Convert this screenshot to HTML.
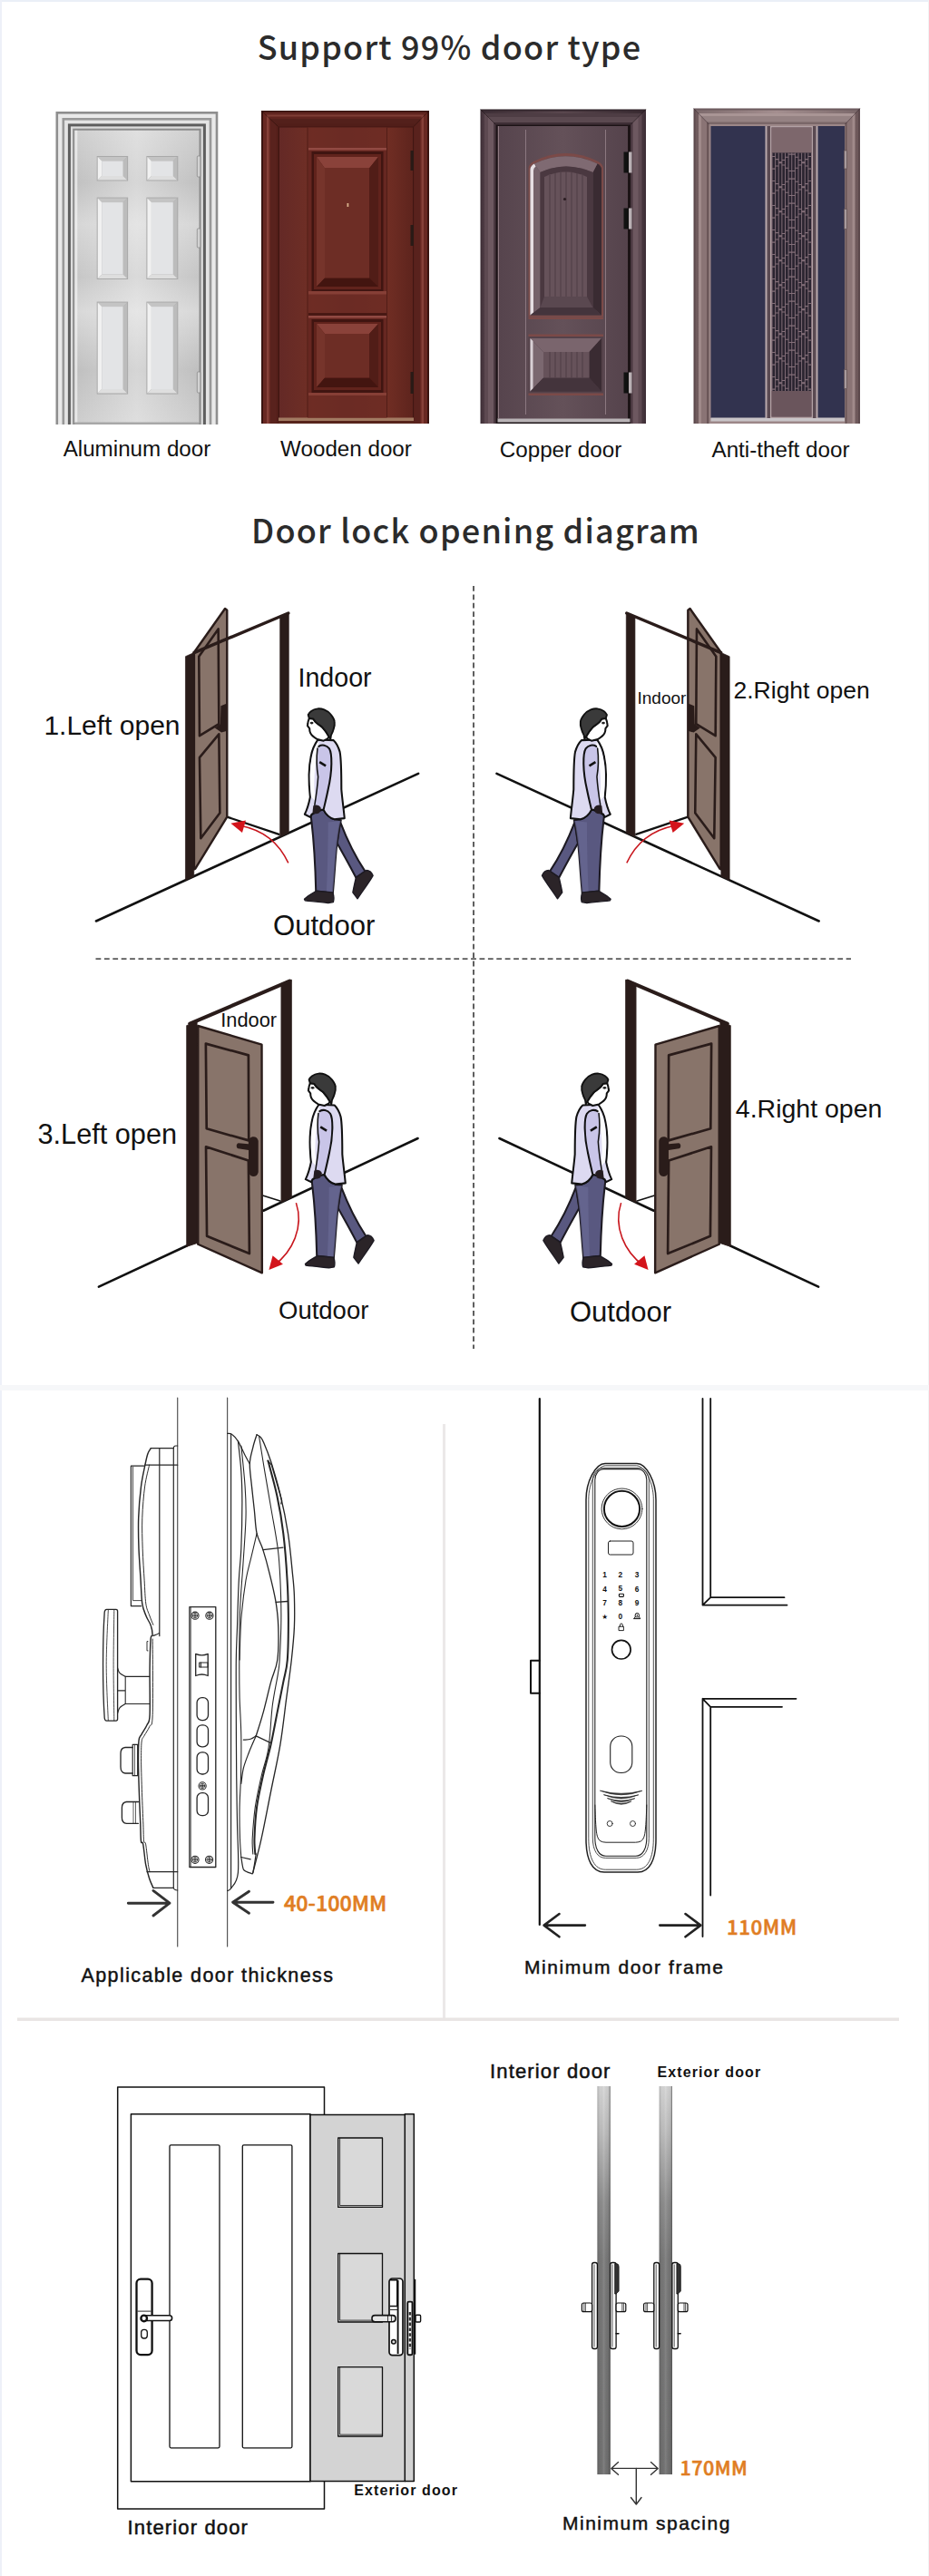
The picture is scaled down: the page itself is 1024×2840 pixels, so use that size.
<!DOCTYPE html>
<html lang="en">
<head>
<meta charset="utf-8">
<title>Support 99% door type</title>
<style>
html,body{margin:0;padding:0;background:#fff;}
body{width:1024px;height:2840px;overflow:hidden;position:relative;font-family:"Liberation Sans",sans-serif;}
svg{position:absolute;left:0;top:0;display:block;}
.t1{font-family:"Noto Sans CJK SC","Liberation Sans",sans-serif;font-weight:500;fill:#2b2b2b;}
.lb{font-family:"Liberation Sans",sans-serif;fill:#111;}
.or{font-family:"Noto Sans CJK SC","Liberation Sans",sans-serif;font-weight:500;fill:#e07d22;stroke:#e07d22;stroke-width:0.55px;}
</style>
</head>
<body>
<svg width="1024" height="2840" viewBox="0 0 1024 2840">
<rect x="0" y="0" width="1024" height="2840" fill="#ffffff"/>
<rect x="0" y="0" width="1024" height="2" fill="#eaeff7"/>
<rect x="0" y="0" width="2" height="2840" fill="#edf0f8"/>
<rect x="1023" y="0" width="1" height="2840" fill="#f1f2f3"/>
<defs>
<linearGradient id="alg" x1="0" y1="0" x2="0" y2="1">
<stop offset="0" stop-color="#cfcfcf"/><stop offset="0.18" stop-color="#c1c1c1"/><stop offset="0.32" stop-color="#d6d6d6"/><stop offset="0.5" stop-color="#c6c6c6"/><stop offset="0.62" stop-color="#d8d8d8"/><stop offset="0.82" stop-color="#bfbfbf"/><stop offset="1" stop-color="#cdcdcd"/>
</linearGradient>
<linearGradient id="alh" x1="0" y1="0" x2="1" y2="0">
<stop offset="0" stop-color="#fff" stop-opacity="0"/><stop offset="0.5" stop-color="#fff" stop-opacity="0.35"/><stop offset="1" stop-color="#fff" stop-opacity="0"/>
</linearGradient>
<linearGradient id="wdg" x1="0" y1="0" x2="1" y2="0">
<stop offset="0" stop-color="#642926"/><stop offset="0.25" stop-color="#702f25"/><stop offset="0.5" stop-color="#692b24"/><stop offset="0.8" stop-color="#712e24"/><stop offset="1" stop-color="#5e241d"/>
</linearGradient>
<linearGradient id="cpg" x1="0" y1="0" x2="1" y2="0">
<stop offset="0" stop-color="#56444d"/><stop offset="0.5" stop-color="#645159"/><stop offset="1" stop-color="#55434c"/>
</linearGradient>
<linearGradient id="cpf" x1="0" y1="0" x2="1" y2="0">
<stop offset="0" stop-color="#4a3841"/><stop offset="0.5" stop-color="#6b555d"/><stop offset="1" stop-color="#44333b"/>
</linearGradient>
<linearGradient id="atf" x1="0" y1="0" x2="1" y2="0">
<stop offset="0" stop-color="#6f5a5c"/><stop offset="0.5" stop-color="#9a8283"/><stop offset="1" stop-color="#6d585a"/>
</linearGradient>
</defs>
<text x="495.5" y="65.5" class="t1" font-size="36" text-anchor="middle" letter-spacing="1.2">Support 99% door type</text>

<!-- Aluminum door -->
<g id="door-al">
<rect x="61.5" y="123.0" width="178.8" height="345.0" fill="#8e8e8e"/>
<rect x="64.1" y="125.6" width="173.6" height="342.4" fill="#e9e9e9"/>
<rect x="68.5" y="130.0" width="164.8" height="338.0" fill="#989898"/>
<rect x="71.1" y="132.6" width="159.6" height="335.4" fill="#e4e4e4"/>
<rect x="74.9" y="136.4" width="152.0" height="331.6" fill="#5e5e5e"/>
<rect x="77.9" y="139.4" width="146.0" height="328.6" fill="#dcdcdc"/>
<rect x="80.2" y="141.7" width="141.4" height="326.3" fill="#8c8c8c"/>
<rect x="82.3" y="143.8" width="137.2" height="322.2" fill="url(#alg)"/>
<rect x="82.3" y="143.8" width="137.2" height="322.2" fill="url(#alh)"/>
<rect x="82.3" y="143.8" width="3" height="322.2" fill="#f2f2f2" opacity="0.7"/>
<rect x="82.3" y="465.5" width="137.2" height="2.5" fill="#a8a8a8"/>
<rect x="106.7" y="172" width="34.4" height="27.5" fill="#a9a9a9"/><path d="M107.7 173H140.1L135.6 177.5H112.2Z" fill="#c4c4c4"/><path d="M107.7 173L112.2 177.5V194.0L107.7 198.5Z" fill="#f1f1f1"/><path d="M140.1 173L135.6 177.5V194.0L140.1 198.5Z" fill="#bcbcbc"/><path d="M107.7 198.5L112.2 194.0H135.6L140.1 198.5Z" fill="#dedede"/><rect x="112.2" y="177.5" width="23.4" height="16.5" fill="#e3e4e6"/>
<rect x="106.7" y="217.6" width="34.4" height="90.4" fill="#a9a9a9"/><path d="M107.7 218.6H140.1L135.6 223.1H112.2Z" fill="#c4c4c4"/><path d="M107.7 218.6L112.2 223.1V302.5L107.7 307Z" fill="#f1f1f1"/><path d="M140.1 218.6L135.6 223.1V302.5L140.1 307Z" fill="#bcbcbc"/><path d="M107.7 307L112.2 302.5H135.6L140.1 307Z" fill="#dedede"/><rect x="112.2" y="223.1" width="23.4" height="79.4" fill="#e3e4e6"/>
<rect x="106.7" y="332.6" width="34.4" height="102.0" fill="#a9a9a9"/><path d="M107.7 333.6H140.1L135.6 338.1H112.2Z" fill="#c4c4c4"/><path d="M107.7 333.6L112.2 338.1V429.1L107.7 433.6Z" fill="#f1f1f1"/><path d="M140.1 333.6L135.6 338.1V429.1L140.1 433.6Z" fill="#bcbcbc"/><path d="M107.7 433.6L112.2 429.1H135.6L140.1 433.6Z" fill="#dedede"/><rect x="112.2" y="338.1" width="23.4" height="91.0" fill="#e3e4e6"/>
<rect x="161.4" y="172" width="34.9" height="27.5" fill="#a9a9a9"/><path d="M162.4 173H195.3L190.8 177.5H166.9Z" fill="#c4c4c4"/><path d="M162.4 173L166.9 177.5V194.0L162.4 198.5Z" fill="#f1f1f1"/><path d="M195.3 173L190.8 177.5V194.0L195.3 198.5Z" fill="#bcbcbc"/><path d="M162.4 198.5L166.9 194.0H190.8L195.3 198.5Z" fill="#dedede"/><rect x="166.9" y="177.5" width="23.9" height="16.5" fill="#e3e4e6"/>
<rect x="161.4" y="217.6" width="34.9" height="90.4" fill="#a9a9a9"/><path d="M162.4 218.6H195.3L190.8 223.1H166.9Z" fill="#c4c4c4"/><path d="M162.4 218.6L166.9 223.1V302.5L162.4 307Z" fill="#f1f1f1"/><path d="M195.3 218.6L190.8 223.1V302.5L195.3 307Z" fill="#bcbcbc"/><path d="M162.4 307L166.9 302.5H190.8L195.3 307Z" fill="#dedede"/><rect x="166.9" y="223.1" width="23.9" height="79.4" fill="#e3e4e6"/>
<rect x="161.4" y="332.6" width="34.9" height="102.0" fill="#a9a9a9"/><path d="M162.4 333.6H195.3L190.8 338.1H166.9Z" fill="#c4c4c4"/><path d="M162.4 333.6L166.9 338.1V429.1L162.4 433.6Z" fill="#f1f1f1"/><path d="M195.3 333.6L190.8 338.1V429.1L195.3 433.6Z" fill="#bcbcbc"/><path d="M162.4 433.6L166.9 429.1H190.8L195.3 433.6Z" fill="#dedede"/><rect x="166.9" y="338.1" width="23.9" height="91.0" fill="#e3e4e6"/>
<g fill="#d2d2d2" stroke="#8a8a8a" stroke-width="0.8"><rect x="217.3" y="172" width="3.6" height="23" rx="1"/><rect x="217.3" y="252" width="3.6" height="21" rx="1"/><rect x="217.3" y="410" width="3.6" height="23" rx="1"/></g>
</g>
<text x="151" y="502.5" class="lb" font-size="24.2" text-anchor="middle">Aluminum door</text>

<!-- Wooden door -->
<g id="door-wd">
<rect x="288" y="122" width="185" height="345" fill="#39130f"/>
<rect x="290" y="123.500" width="181" height="343.500" fill="#682822"/>
<rect x="294" y="126.500" width="173" height="340.500" fill="#864139"/>
<rect x="296.500" y="128.500" width="168" height="338.500" fill="#672721"/>
<rect x="298" y="131" width="165" height="336" fill="#59221d"/>
<rect x="304" y="136.500" width="153" height="330.500" fill="#57201b"/>
<path d="M288 122H473L456 139.5H306.5Z" fill="rgba(0,0,0,0.06)"/><path d="M288 122L306.5 139.5M473 122L456 139.5" stroke="rgba(30,8,5,0.5)" stroke-width="0.9" fill="none"/><rect x="306.500" y="139.500" width="149.500" height="327.500" fill="#411612"/>
<rect x="308" y="140.500" width="147" height="320.500" fill="url(#wdg)"/>
<rect x="307" y="460.500" width="149" height="4" fill="#a27a62"/>
<rect x="307" y="464" width="149" height="3" fill="#57241b"/>
<rect x="339" y="140.500" width="87.500" height="320.500" fill="#6c2c25" opacity="0.6"/>
<line x1="339" y1="140.500" x2="339" y2="460" stroke="#511d17" stroke-width="1"/><line x1="426.500" y1="140.500" x2="426.500" y2="460" stroke="#511d17" stroke-width="1"/>
<!-- upper panel -->
<rect x="340" y="163" width="86" height="160" fill="#924a43"/>
<rect x="340" y="165.500" width="86" height="157.500" fill="#672721"/>
<rect x="343.500" y="167" width="79" height="154" fill="#401511"/>
<rect x="346" y="170" width="74" height="149" fill="#61231c"/>
<path d="M349 173H417V316H349Z" fill="#571b15"/>
<path d="M349 173H417L407 185.500H358Z" fill="#8a423a"/>
<path d="M349 173L358 185.500V306.500L349 316Z" fill="#76342b"/>
<path d="M417 173L407 185.500V306.500L417 316Z" fill="#511d17"/>
<path d="M349 316L358 306.500H407L417 316Z" fill="#431510"/>
<rect x="358" y="185.500" width="49" height="121" fill="#6d2d25"/>
<rect x="382.500" y="224" width="1.800" height="4" fill="#d8b08a"/>
<!-- middle rail -->
<rect x="340" y="321" width="86" height="3.500" fill="#863f36"/>
<rect x="340" y="345" width="86" height="3" fill="#481813"/>
<!-- lower panel -->
<rect x="340" y="348" width="86" height="88" fill="#924a43"/>
<rect x="340" y="350.500" width="86" height="85.500" fill="#672721"/>
<rect x="343.500" y="352" width="79" height="81" fill="#401511"/>
<rect x="346" y="355" width="74" height="75" fill="#61231c"/>
<path d="M349 357H417V427H349Z" fill="#571b15"/>
<path d="M349 357H417L407 368H358Z" fill="#8a423a"/>
<path d="M349 357L358 368V416.500L349 427Z" fill="#76342b"/>
<path d="M417 357L407 368V416.500L417 427Z" fill="#511d17"/>
<path d="M349 427L358 416.500H407L417 427Z" fill="#431510"/>
<rect x="358" y="368" width="49" height="48.500" fill="#6d2d25"/>
<rect x="340" y="433" width="86" height="3" fill="#863f36"/>
<g fill="#2a1a16"><rect x="452.500" y="166" width="3.500" height="22"/><rect x="452.500" y="248" width="3.500" height="23"/><rect x="452.500" y="410" width="3.500" height="24"/></g>
</g>
<text x="381.500" y="502.5" class="lb" font-size="24.2" text-anchor="middle">Wooden door</text>

<!-- Copper door -->
<g id="door-cp">
<rect x="529.500" y="120.500" width="182.500" height="346.500" fill="#3f2f37"/>
<rect x="531.500" y="122.500" width="178.500" height="344.500" fill="url(#cpf)"/>
<rect x="534" y="125" width="173.500" height="342" fill="#5d4951"/>
<rect x="538" y="129" width="165.500" height="338" fill="#6d5860"/>
<rect x="544" y="135" width="153.500" height="332" fill="#4b3941"/>
<path d="M529.5 120.5H712L695 137.5H546.5Z" fill="rgba(0,0,0,0.16)"/><path d="M529.5 120.5L546.5 137.5M712 120.5L695 137.5" stroke="rgba(20,10,15,0.55)" stroke-width="0.9" fill="none"/><rect x="546.500" y="137.500" width="148.500" height="329.500" fill="#1c1316"/>
<rect x="548.500" y="139" width="143.500" height="323" fill="url(#cpg)"/>
<rect x="548.500" y="461.500" width="146" height="4" fill="#b9b3b6"/>
<line x1="579.500" y1="143" x2="579.500" y2="457" stroke="#8c7880" stroke-width="1"/><line x1="667.500" y1="143" x2="667.500" y2="457" stroke="#8c7880" stroke-width="1"/>
<line x1="549.500" y1="139" x2="549.500" y2="461" stroke="#8f7b82" stroke-width="1"/>
<!-- arch panel -->
<path d="M582.500 349.500V186Q582.500 181 588 178Q623.500 160 659.500 178Q665 181 665 186V349.500Z" fill="#7b4a48"/>
<path d="M584.500 347.500V187Q584.500 183 589 180.500Q623.500 164 658.500 180.500Q663 183 663 187V347.500Z" fill="#55424a"/>
<path d="M584.500 347.500V187Q584.500 183 589 180.500L595.500 190V339Z" fill="#75626a"/><path d="M584.500 347.500V187Q584.500 183 589 180.500L590.5 183.5Q588 185 588 188V344.500Z" fill="#e6dfe3"/>
<path d="M663 347.500V187Q663 183 658.500 180.500L653.500 190V339Z" fill="#3a2b32"/>
<path d="M589 180.500Q623.500 164 658.500 180.500L653.500 190Q623.500 177 595.500 190Z" fill="#7f6a72"/>
<path d="M584.500 347.500L595.500 339H653.500L663 347.500Z" fill="#44343c"/>
<path d="M595.500 339V190Q623.500 177 653.500 190V339Z" fill="#4a3840"/>
<path d="M600 327V195Q623.500 184 647 195V327Z" fill="#66525a"/>
<g stroke="#4e3c44" stroke-width="1"><line x1="606" y1="193" x2="606" y2="327"/><line x1="612" y1="190.500" x2="612" y2="327"/><line x1="618" y1="189.500" x2="618" y2="327"/><line x1="624" y1="189" x2="624" y2="327"/><line x1="630" y1="189.500" x2="630" y2="327"/><line x1="636" y1="190.500" x2="636" y2="327"/><line x1="642" y1="193" x2="642" y2="327"/></g>
<path d="M600 327L595.500 339H653.500L647 327Z" fill="#5a4850"/>
<circle cx="622.500" cy="219.500" r="1.600" fill="#2a1d22"/>
<!-- rails -->
<rect x="582.500" y="349.500" width="82.500" height="2.500" fill="#7b4a48"/>
<rect x="582.500" y="368.500" width="82.500" height="2.500" fill="#7b4a48"/>
<!-- lower panel -->
<rect x="582.500" y="371" width="82.500" height="62.500" fill="#55424a"/>
<path d="M584.500 373H663V431.500H584.500Z" fill="#4a3840"/>
<path d="M584.500 373H663L649.500 388H599Z" fill="#7a656d"/>
<path d="M584.500 373L599 388V416.500L584.500 431.500Z" fill="#7b6870"/><path d="M584.500 373L587.5 376V428.500L584.500 431.500Z" fill="#d9d0d5"/>
<path d="M663 373L649.500 388V416.500L663 431.500Z" fill="#3a2b32"/>
<path d="M584.500 431.500L599 416.500H649.500L663 431.500Z" fill="#44343c"/>
<rect x="599" y="388" width="50.500" height="28.500" fill="#66525a"/>
<g stroke="#4e3c44" stroke-width="1"><line x1="606" y1="388" x2="606" y2="416.500"/><line x1="612" y1="388" x2="612" y2="416.500"/><line x1="618" y1="388" x2="618" y2="416.500"/><line x1="624" y1="388" x2="624" y2="416.500"/><line x1="630" y1="388" x2="630" y2="416.500"/><line x1="636" y1="388" x2="636" y2="416.500"/><line x1="642" y1="388" x2="642" y2="416.500"/></g>
<rect x="582.500" y="433.500" width="82.500" height="2.500" fill="#7b4a48"/>
<!-- hinges -->
<g><rect x="687.500" y="167.500" width="6" height="23" fill="#111"/><rect x="693" y="167.500" width="3.500" height="23" fill="#b9b0b4"/>
<rect x="687.500" y="229.500" width="6" height="23" fill="#111"/><rect x="693" y="229.500" width="3.500" height="23" fill="#b9b0b4"/>
<rect x="687.500" y="410.500" width="6" height="23" fill="#111"/><rect x="693" y="410.500" width="3.500" height="23" fill="#b9b0b4"/></g>
</g>
<text x="618" y="503.5" class="lb" font-size="24.2" text-anchor="middle">Copper door</text>

<!-- Anti-theft door -->
<g id="door-at">
<rect x="764.500" y="119.500" width="183.500" height="347.500" fill="#5c494c"/>
<rect x="766.500" y="121.500" width="179.500" height="345.500" fill="url(#atf)"/>
<rect x="770" y="125" width="172.500" height="342" fill="#a08a8a"/>
<rect x="773" y="128" width="166.500" height="339" fill="#8a7475"/>
<rect x="779" y="134.500" width="154.500" height="332.500" fill="#6b5658"/>
<rect x="781.500" y="137" width="150" height="330" fill="#9c8788"/>
<path d="M764.5 119.5H948L931.5 137H781.5Z" fill="rgba(255,255,255,0.10)"/><path d="M764.5 119.5L781.5 137M948 119.5L931.5 137" stroke="rgba(40,25,30,0.5)" stroke-width="0.9" fill="none"/><rect x="783.500" y="139" width="147.500" height="322" fill="#32334f"/>
<rect x="783.500" y="460.500" width="147.500" height="4" fill="#c9c5c8"/>
<rect x="843.500" y="139" width="58" height="322" fill="#b9a9ac"/>
<rect x="845.500" y="139" width="54" height="322" fill="#5a4a52"/>
<rect x="849" y="139" width="47" height="322" fill="#b3a2a5"/>
<rect x="850.500" y="140.500" width="44" height="319" fill="#6e5960"/>
<rect x="850.500" y="140.500" width="44" height="28" fill="#7d676c"/>
<rect x="850.500" y="431" width="44" height="28.500" fill="#6a555c"/>
<g id="atgrid"><rect x="851.0" y="168.5" width="43.5" height="262.5" fill="#2a2430"/><path d="M851.00 168.5V431.0M854.62 168.5V431.0M858.25 168.5V431.0M861.88 168.5V431.0M865.50 168.5V431.0M869.12 168.5V431.0M872.75 168.5V431.0M876.38 168.5V431.0M880.00 168.5V431.0M883.62 168.5V431.0M887.25 168.5V431.0M890.88 168.5V431.0M894.50 168.5V431.0" stroke="#85707a" stroke-width="0.95" fill="none"/><path d="M851.00 186.10H854.62M851.00 172.40H854.62M854.62 182.90H858.25M854.62 175.60H858.25M858.25 179.70H861.88M858.25 178.80H861.88M861.88 176.50H865.50M861.88 182.00H865.50M865.50 173.30H869.12M865.50 185.20H869.12M869.12 170.10H872.75M869.12 188.40H872.75M872.75 170.10H876.38M872.75 188.40H876.38M876.38 173.30H880.00M876.38 185.20H880.00M880.00 176.50H883.62M880.00 182.00H883.62M883.62 179.70H887.25M883.62 178.80H887.25M887.25 182.90H890.88M887.25 175.60H890.88M890.88 186.10H894.50M890.88 172.40H894.50M851.00 213.10H854.62M851.00 199.40H854.62M854.62 209.90H858.25M854.62 202.60H858.25M858.25 206.70H861.88M858.25 205.80H861.88M861.88 203.50H865.50M861.88 209.00H865.50M865.50 200.30H869.12M865.50 212.20H869.12M869.12 197.10H872.75M869.12 215.40H872.75M872.75 197.10H876.38M872.75 215.40H876.38M876.38 200.30H880.00M876.38 212.20H880.00M880.00 203.50H883.62M880.00 209.00H883.62M883.62 206.70H887.25M883.62 205.80H887.25M887.25 209.90H890.88M887.25 202.60H890.88M890.88 213.10H894.50M890.88 199.40H894.50M851.00 240.10H854.62M851.00 226.40H854.62M854.62 236.90H858.25M854.62 229.60H858.25M858.25 233.70H861.88M858.25 232.80H861.88M861.88 230.50H865.50M861.88 236.00H865.50M865.50 227.30H869.12M865.50 239.20H869.12M869.12 224.10H872.75M869.12 242.40H872.75M872.75 224.10H876.38M872.75 242.40H876.38M876.38 227.30H880.00M876.38 239.20H880.00M880.00 230.50H883.62M880.00 236.00H883.62M883.62 233.70H887.25M883.62 232.80H887.25M887.25 236.90H890.88M887.25 229.60H890.88M890.88 240.10H894.50M890.88 226.40H894.50M851.00 267.10H854.62M851.00 253.40H854.62M854.62 263.90H858.25M854.62 256.60H858.25M858.25 260.70H861.88M858.25 259.80H861.88M861.88 257.50H865.50M861.88 263.00H865.50M865.50 254.30H869.12M865.50 266.20H869.12M869.12 251.10H872.75M869.12 269.40H872.75M872.75 251.10H876.38M872.75 269.40H876.38M876.38 254.30H880.00M876.38 266.20H880.00M880.00 257.50H883.62M880.00 263.00H883.62M883.62 260.70H887.25M883.62 259.80H887.25M887.25 263.90H890.88M887.25 256.60H890.88M890.88 267.10H894.50M890.88 253.40H894.50M851.00 294.10H854.62M851.00 280.40H854.62M854.62 290.90H858.25M854.62 283.60H858.25M858.25 287.70H861.88M858.25 286.80H861.88M861.88 284.50H865.50M861.88 290.00H865.50M865.50 281.30H869.12M865.50 293.20H869.12M869.12 278.10H872.75M869.12 296.40H872.75M872.75 278.10H876.38M872.75 296.40H876.38M876.38 281.30H880.00M876.38 293.20H880.00M880.00 284.50H883.62M880.00 290.00H883.62M883.62 287.70H887.25M883.62 286.80H887.25M887.25 290.90H890.88M887.25 283.60H890.88M890.88 294.10H894.50M890.88 280.40H894.50M851.00 321.10H854.62M851.00 307.40H854.62M854.62 317.90H858.25M854.62 310.60H858.25M858.25 314.70H861.88M858.25 313.80H861.88M861.88 311.50H865.50M861.88 317.00H865.50M865.50 308.30H869.12M865.50 320.20H869.12M869.12 305.10H872.75M869.12 323.40H872.75M872.75 305.10H876.38M872.75 323.40H876.38M876.38 308.30H880.00M876.38 320.20H880.00M880.00 311.50H883.62M880.00 317.00H883.62M883.62 314.70H887.25M883.62 313.80H887.25M887.25 317.90H890.88M887.25 310.60H890.88M890.88 321.10H894.50M890.88 307.40H894.50M851.00 348.10H854.62M851.00 334.40H854.62M854.62 344.90H858.25M854.62 337.60H858.25M858.25 341.70H861.88M858.25 340.80H861.88M861.88 338.50H865.50M861.88 344.00H865.50M865.50 335.30H869.12M865.50 347.20H869.12M869.12 332.10H872.75M869.12 350.40H872.75M872.75 332.10H876.38M872.75 350.40H876.38M876.38 335.30H880.00M876.38 347.20H880.00M880.00 338.50H883.62M880.00 344.00H883.62M883.62 341.70H887.25M883.62 340.80H887.25M887.25 344.90H890.88M887.25 337.60H890.88M890.88 348.10H894.50M890.88 334.40H894.50M851.00 375.10H854.62M851.00 361.40H854.62M854.62 371.90H858.25M854.62 364.60H858.25M858.25 368.70H861.88M858.25 367.80H861.88M861.88 365.50H865.50M861.88 371.00H865.50M865.50 362.30H869.12M865.50 374.20H869.12M869.12 359.10H872.75M869.12 377.40H872.75M872.75 359.10H876.38M872.75 377.40H876.38M876.38 362.30H880.00M876.38 374.20H880.00M880.00 365.50H883.62M880.00 371.00H883.62M883.62 368.70H887.25M883.62 367.80H887.25M887.25 371.90H890.88M887.25 364.60H890.88M890.88 375.10H894.50M890.88 361.40H894.50M851.00 402.10H854.62M851.00 388.40H854.62M854.62 398.90H858.25M854.62 391.60H858.25M858.25 395.70H861.88M858.25 394.80H861.88M861.88 392.50H865.50M861.88 398.00H865.50M865.50 389.30H869.12M865.50 401.20H869.12M869.12 386.10H872.75M869.12 404.40H872.75M872.75 386.10H876.38M872.75 404.40H876.38M876.38 389.30H880.00M876.38 401.20H880.00M880.00 392.50H883.62M880.00 398.00H883.62M883.62 395.70H887.25M883.62 394.80H887.25M887.25 398.90H890.88M887.25 391.60H890.88M890.88 402.10H894.50M890.88 388.40H894.50M851.00 429.10H854.62M851.00 415.40H854.62M854.62 425.90H858.25M854.62 418.60H858.25M858.25 422.70H861.88M858.25 421.80H861.88M861.88 419.50H865.50M861.88 425.00H865.50M865.50 416.30H869.12M865.50 428.20H869.12M869.12 413.10H872.75M872.75 413.10H876.38M876.38 416.30H880.00M876.38 428.20H880.00M880.00 419.50H883.62M880.00 425.00H883.62M883.62 422.70H887.25M883.62 421.80H887.25M887.25 425.90H890.88M887.25 418.60H890.88M890.88 429.10H894.50M890.88 415.40H894.50" stroke="#85707a" stroke-width="1.05" fill="none"/></g>
<g fill="#a89a9c" stroke="#5a4a4e" stroke-width="0.600"><rect x="930.500" y="166" width="3" height="20"/><rect x="930.500" y="230.500" width="3" height="22"/><rect x="930.500" y="407.500" width="3" height="21"/></g>
</g>
<text x="860.500" y="503.5" class="lb" font-size="24.2" text-anchor="middle">Anti-theft door</text>
<defs>
<g id="man">
<!-- coords in zoom space: origin (310,760) scale 0.17224 -->
<path d="M358 985C400 1060 440 1130 478 1205L537 1165C480 1080 420 960 378 850Z" fill="#595880" stroke="#1d1a22" stroke-width="12" stroke-linejoin="round"/>
<path d="M478 1205C470 1240 462 1275 458 1300L488 1340C520 1290 560 1240 587 1192C577 1168 560 1158 545 1158Z" fill="#2b2428" stroke="#1d1a22" stroke-width="8" stroke-linejoin="round"/>
<path d="M190 812C200 900 215 1000 222 1292L330 1304C340 1200 345 1100 355 1000C362 940 370 880 382 838L340 832C300 820 280 790 270 770C240 770 215 790 195 800Z" fill="#595880" stroke="#1d1a22" stroke-width="12" stroke-linejoin="round"/>
<path d="M300 850C300 1000 296 1150 290 1296L330 1302C340 1200 345 1100 355 1000C362 940 370 880 380 842Z" fill="#6a6994" opacity="0.7"/>
<path d="M148 1342C170 1320 200 1305 225 1290L330 1300C338 1325 338 1345 333 1362L300 1367C250 1362 200 1358 152 1352Z" fill="#2b2428" stroke="#1d1a22" stroke-width="8" stroke-linejoin="round"/>
<path d="M235 322C215 350 195 400 190 430C175 500 172 570 185 690C175 740 160 780 150 800L185 818L195 800C215 790 240 770 270 770C280 790 300 820 340 832L405 825C400 770 390 700 385 640C385 550 385 450 375 400C365 365 350 340 335 326Z" fill="#dddaf1" stroke="#111" stroke-width="12" stroke-linejoin="round"/>
<path d="M238 332C218 360 200 410 196 440C182 510 180 580 192 690L222 715C205 640 208 500 240 385Z" fill="#fff" opacity="0.9"/>
<path d="M240 365C260 352 290 355 308 380C326 410 328 520 300 640C290 690 280 730 272 765L214 740C222 690 232 620 236 560C226 500 224 440 232 378Z" fill="#c9c5e8"/>
<path d="M240 365C260 352 290 355 308 380C326 410 328 520 300 640C290 690 280 730 272 765" fill="none" stroke="#111" stroke-width="12" stroke-linecap="round"/>
<path d="M232 378C224 440 226 500 236 560C232 620 222 690 214 740" fill="none" stroke="#111" stroke-width="9" stroke-linecap="round"/>
<path d="M245 465L285 490" stroke="#111" stroke-width="15" stroke-linecap="butt"/>
<path d="M205 745C220 735 245 740 255 760L245 790C230 800 210 800 200 790Z" fill="#241c20"/>
<path d="M179 185C174 198 170 210 170 220L168 233L181 250C181 262 183 272 186 278C192 292 205 305 231 320L271 329L297 316L306 303C296 285 280 262 262 242C250 232 236 224 218 207L205 189Z" fill="#fff" stroke="#111" stroke-width="12" stroke-linejoin="round"/>
<path d="M172 163C178 148 200 128 231 124C250 121 262 125 275 130C295 138 310 150 319 163C332 180 340 195 341 207C343 225 340 240 336 251C332 268 325 282 319 294L315 320L306 303C296 285 280 262 262 242C250 232 236 224 218 207L205 189L179 185Z" fill="#3a3a3a" stroke="#111" stroke-width="11" stroke-linejoin="round"/>
<ellipse cx="195" cy="215" rx="11" ry="8" fill="#222"/>
</g>

<g id="dg1">
<!-- zoom space origin (180,650) scale 0.17224 ; ground line etc -->
<path d="M-430 2122L1632 1178" stroke="#111" stroke-width="15" stroke-linecap="round" fill="none"/>
<path d="M408 1455L745 1568" stroke="#111" stroke-width="13" fill="none"/>
<path d="M747 172L803 148V1557L747 1583Z" fill="#2a1c1a" stroke="#2a1c1a" stroke-width="4" stroke-linejoin="round"/>
<path d="M197 402L395 122L408 132V1455L205 1786L197 1790Z" fill="#88746a" stroke="#2a1c1a" stroke-width="14" stroke-linejoin="round"/>
<path d="M228 428L352 252L356 860L232 936Z" fill="none" stroke="#2a1c1a" stroke-width="15" stroke-linejoin="round"/>
<path d="M232 1075L356 925L362 1430L240 1592Z" fill="none" stroke="#2a1c1a" stroke-width="15" stroke-linejoin="round"/>
<path d="M368 745L404 730V905L372 915L330 885L365 860Z" fill="#2a1c1a"/>
<path d="M142 428L196 404V1836L142 1861Z" fill="#2a1c1a" stroke="#2a1c1a" stroke-width="4" stroke-linejoin="round"/>
<path d="M197 404L800 151" stroke="#2a1c1a" stroke-width="20" stroke-linecap="round" fill="none"/>
<path d="M800 1750C740 1620 640 1540 500 1512" stroke="#c8161d" stroke-width="9" fill="none"/>
<path d="M432 1497L528 1478L505 1556Z" fill="#d3141b"/>
</g>
<g id="dg3">
<!-- zoom space origin (180,1070) scale 0.17224 -->
<path d="M-413 2024L150 1762" stroke="#111" stroke-width="15" stroke-linecap="round" fill="none"/>
<path d="M641 1537L1629 1074" stroke="#111" stroke-width="15" stroke-linecap="round" fill="none"/>
<path d="M636 1440L752 1476" stroke="#111" stroke-width="10" fill="none"/>
<path d="M755 86L820 60V1453L755 1484Z" fill="#2a1c1a" stroke="#2a1c1a" stroke-width="6" stroke-linejoin="round"/>
<path d="M150 352L215 326V1745L150 1766Z" fill="#2a1c1a" stroke="#2a1c1a" stroke-width="6" stroke-linejoin="round"/>
<path d="M170 340L808 68" stroke="#2a1c1a" stroke-width="24" stroke-linecap="round" fill="none"/>
<path d="M222 354L630 474L632 1935L222 1752Z" fill="#88746a" stroke="#2a1c1a" stroke-width="14" stroke-linejoin="round"/>
<path d="M272 468L545 542L547 1088L277 1012Z" fill="none" stroke="#2a1c1a" stroke-width="15.5" stroke-linejoin="round"/>
<path d="M273 1128L545 1216L551 1812L279 1700Z" fill="none" stroke="#2a1c1a" stroke-width="15.5" stroke-linejoin="round"/>
<path d="M545 1090C548 1060 600 1050 608 1090V1290C600 1330 552 1325 546 1290V1150L480 1140C465 1135 465 1108 480 1104L545 1110Z" fill="#2a1c1a"/>
<path d="M850 1487C900 1640 830 1800 705 1890" stroke="#c8161d" stroke-width="9" fill="none"/>
<path d="M676 1916L700 1824L766 1880Z" fill="#d3141b"/>
</g>
</defs>

<text x="524.5" y="598.5" class="t1" font-size="36" text-anchor="middle" letter-spacing="1.2">Door lock opening diagram</text>
<path d="M522 646V1487" stroke="#585858" stroke-width="1.9" stroke-dasharray="5.800 3.600" fill="none"/>
<path d="M105.5 1057.100H938" stroke="#585858" stroke-width="1.9" stroke-dasharray="5.800 3.600" fill="none"/>

<!-- diagram 1 -->
<g transform="translate(180,650) scale(0.17224)"><use href="#dg1"/></g>
<g transform="translate(310,760) scale(0.17224)"><use href="#man"/></g>
<text x="328.500" y="757.400" class="lb" font-size="28.600">Indoor</text>
<text x="48.400" y="809.500" class="lb" font-size="30">1.Left open</text>
<text x="301" y="1031.300" class="lb" font-size="31.100">Outdoor</text>

<!-- diagram 2 (mirror) -->
<g transform="translate(1008.6,0) scale(-1,1)">
<g transform="translate(180,650) scale(0.17224)"><use href="#dg1"/></g>
<g transform="translate(310,760) scale(0.17224)"><use href="#man"/></g>
</g>
<text x="702.500" y="776" class="lb" font-size="19">Indoor</text>
<text x="808.500" y="770" class="lb" font-size="26.500">2.Right open</text>

<!-- diagram 3 -->
<g transform="translate(180,1070) scale(0.17224)"><use href="#dg3"/></g>
<g transform="translate(311,1162.3) scale(0.17224)"><use href="#man"/></g>
<text x="41.500" y="1261" class="lb" font-size="30.700">3.Left open</text>
<text x="243.300" y="1132" class="lb" font-size="21.800">Indoor</text>
<text x="307" y="1454" class="lb" font-size="27.500">Outdoor</text>
<!-- diagram 4 (mirror) -->
<g transform="translate(1011,0) scale(-1,1)">
<g transform="translate(180,1070) scale(0.17224)"><use href="#dg3"/></g>
<g transform="translate(311,1162.3) scale(0.17224)"><use href="#man"/></g>
</g>
<text x="810.800" y="1231.500" class="lb" font-size="28.500">4.Right open</text>
<text x="628" y="1457" class="lb" font-size="31">Outdoor</text>
<g id="lock-side" stroke-linecap="round" stroke-linejoin="round">
<path d="M195.7 1541V2146M250.6 1541V2146" stroke="#555" stroke-width="1.20" fill="none" />
<path d="M191.3 1597Q191.3 1594 193.6 1594H195.7M191.3 1596V2081.3M191.3 2081.3Q191.6 2083.8 195.7 2084" stroke="#262626" stroke-width="1.20" fill="none" />
<path d="M166.3 1596.7H191.3M159.6 1615.2H195.7" stroke="#262626" stroke-width="1.20" fill="none" />
<path d="M175.8 1596.7C175.8 1612.3 175.8 1657.7 175.8 1690.6C175.8 1723.4 175.9 1775.6 175.8 1793.9C175.7 1812.2 176.2 1798.9 175.1 1800.5C173.9 1802.0 169.9 1802.9 168.9 1803.4" stroke="#262626" stroke-width="1.20" fill="none" />
<path d="M166.3 1596.7C165.7 1597.7 163.9 1599.7 162.9 1602.7C161.8 1605.8 161.2 1609.1 159.9 1615.1C158.7 1621.2 156.7 1629.2 155.5 1638.9C154.3 1648.6 153.1 1661.9 152.7 1673.3C152.3 1684.8 152.6 1696.3 153.0 1707.8C153.5 1719.3 154.5 1732.2 155.1 1742.2C155.7 1752.3 155.8 1761.5 156.8 1768.1C157.8 1774.7 159.6 1777.8 161.1 1781.8C162.7 1785.9 165.2 1788.7 166.3 1792.2C167.5 1795.6 168.1 1800.0 168.0 1802.5C168.0 1805.0 166.6 1801.0 166.1 1807.0C165.7 1813.1 165.3 1825.0 165.1 1838.9C164.9 1852.8 165.6 1880.1 165.1 1890.6C164.6 1901.0 163.5 1898.2 162.0 1901.8C160.5 1905.3 157.5 1909.2 156.0 1912.1C154.5 1915.0 153.6 1914.0 153.0 1919.0C152.5 1924.0 152.5 1932.6 152.5 1942.2C152.6 1951.9 153.0 1965.2 153.4 1976.7C153.8 1988.2 154.4 2002.2 154.8 2011.1C155.1 2020.0 155.0 2026.4 155.5 2030.1C155.9 2033.7 156.8 2028.8 157.7 2033.1C158.6 2037.3 159.5 2049.1 160.6 2055.4C161.8 2061.8 163.2 2066.6 164.6 2071.0C166.0 2075.3 168.2 2079.6 168.9 2081.3" stroke="#262626" stroke-width="1.44" fill="none" />
<path d="M168.9 2081.3H191.3" stroke="#262626" stroke-width="1.20" fill="none" />
<path d="M164.6 1615.1C163.8 1619.1 160.9 1629.2 159.6 1638.9C158.3 1648.6 157.2 1661.9 156.8 1673.3C156.4 1684.8 156.8 1696.3 157.2 1707.8C157.6 1719.3 158.5 1732.2 159.1 1742.2C159.7 1752.3 159.9 1761.6 160.8 1768.1C161.7 1774.5 163.4 1777.1 164.8 1781.0C166.1 1784.9 168.2 1789.6 168.9 1791.3" stroke="#262626" stroke-width="0.96" fill="none" />
<path d="M168.2 1807.0C168.2 1821.0 168.8 1874.5 168.2 1890.6C167.6 1906.6 166.3 1899.6 164.8 1903.5C163.2 1907.4 160.3 1911.0 158.9 1913.8C157.5 1916.6 156.7 1915.5 156.1 1920.2C155.6 1924.9 155.6 1932.8 155.6 1942.2C155.7 1951.7 156.1 1965.2 156.5 1976.7C156.9 1988.2 157.5 2002.2 157.9 2011.1C158.2 2020.0 158.1 2026.4 158.6 2030.1C159.0 2033.7 159.8 2028.8 160.6 2033.1C161.4 2037.3 162.6 2050.3 163.4 2055.4C164.1 2060.6 164.8 2062.3 165.1 2063.7" stroke="#262626" stroke-width="0.96" fill="none" />
<path d="M162 2063.7H195.7" stroke="#262626" stroke-width="1.20" fill="none" />
<path d="M158.6 1616.2 L144.4 1616.2 L144.4 1770.7 L155.5 1770.7" stroke="#262626" stroke-width="1.20" fill="none" />
<path d="M146.5 1617.4 L146.5 1764.6 L155.5 1764.6" stroke="#262626" stroke-width="0.84" fill="none" />
<path d="M163.0 1809.6 L162.0 1809.6 L162.0 1819.9 L163.0 1819.9" stroke="#262626" stroke-width="0.96" fill="none" />
<path d="M117.5 1774.3H128Q129.6 1774.3 129.6 1776.5V1895Q129.6 1897.1 128 1897.1H117.5Q115.5 1897.1 115.2 1894C113 1860 113 1810 115.2 1777.5Q115.5 1774.3 117.5 1774.3Z" stroke="#262626" stroke-width="1.32" fill="none" />
<path d="M119.3 1775.2C118.9 1785.2 117.2 1815.2 117.2 1835.4C117.2 1855.7 118.9 1886.4 119.3 1896.6" stroke="#262626" stroke-width="0.84" fill="none" />
<path d="M125.8 1774.8C125.7 1784.9 125.1 1815.1 125.1 1835.4C125.1 1855.8 125.7 1886.5 125.8 1896.8" stroke="#262626" stroke-width="0.84" fill="none" />
<path d="M129.6 1838.9C130.0 1839.8 130.4 1842.8 131.9 1844.4C133.3 1846.0 137.2 1847.7 138.2 1848.4H164.6" stroke="#262626" stroke-width="1.20" fill="none" />
<path d="M129.6 1888.8C130.0 1887.8 130.4 1884.5 131.9 1882.8C133.3 1881.1 137.2 1879.2 138.2 1878.5H164.6" stroke="#262626" stroke-width="1.20" fill="none" />
<path d="M138.2 1848.4V1878.5M129.6 1863.9H138.2" stroke="#262626" stroke-width="1.08" fill="none" />
<path d="M146.2 1926.5H138Q133 1927 133 1933V1948Q133 1954.5 138 1955H146.2" stroke="#262626" stroke-width="1.32" fill="none" />
<path d="M146.2 1923.3H151.7V1957.7H146.2Z" stroke="#262626" stroke-width="1.20" fill="none" />
<path d="M148.5 1923.3V1957.7" stroke="#262626" stroke-width="0.72" fill="none" />
<path d="M152.5 1986.5H139.5Q134.4 1987 134.4 1993V2004Q134.4 2010 139.5 2010.3H152.5" stroke="#262626" stroke-width="1.32" fill="none" />
<path d="M147 1986.5V2010.3M149.5 1986.5V2010.3" stroke="#262626" stroke-width="0.72" fill="none" />
<path d="M208.9 1771.6H237.8V2058.5H208.9Z" stroke="#262626" stroke-width="1.32" fill="none" />
<path d="M210.3 1771.6V2058.5" stroke="#262626" stroke-width="0.72" fill="none" />
<circle cx="215" cy="1781.2" r="4.1" fill="none" stroke="#262626" stroke-width="1.05"/>
<circle cx="215" cy="1781.2" r="2.7" fill="none" stroke="#262626" stroke-width="0.7"/>
<path d="M212.6 1781.2H217.4M215 1778.8V1783.6000000000001" stroke="#262626" stroke-width="1.08" fill="none" />
<circle cx="230.9" cy="1781.2" r="4.1" fill="none" stroke="#262626" stroke-width="1.05"/>
<circle cx="230.9" cy="1781.2" r="2.7" fill="none" stroke="#262626" stroke-width="0.7"/>
<path d="M228.5 1781.2H233.3M230.9 1778.8V1783.6000000000001" stroke="#262626" stroke-width="1.08" fill="none" />
<circle cx="223.1" cy="1968.9" r="4.1" fill="none" stroke="#262626" stroke-width="1.05"/>
<circle cx="223.1" cy="1968.9" r="2.7" fill="none" stroke="#262626" stroke-width="0.7"/>
<path d="M220.7 1968.9H225.5M223.1 1966.5V1971.3000000000002" stroke="#262626" stroke-width="1.08" fill="none" />
<circle cx="215" cy="2050.3" r="4.1" fill="none" stroke="#262626" stroke-width="1.05"/>
<circle cx="215" cy="2050.3" r="2.7" fill="none" stroke="#262626" stroke-width="0.7"/>
<path d="M212.6 2050.3H217.4M215 2047.9V2052.7000000000003" stroke="#262626" stroke-width="1.08" fill="none" />
<circle cx="230.6" cy="2050.3" r="4.1" fill="none" stroke="#262626" stroke-width="1.05"/>
<circle cx="230.6" cy="2050.3" r="2.7" fill="none" stroke="#262626" stroke-width="0.7"/>
<path d="M228.2 2050.3H233.0M230.6 2047.9V2052.7000000000003" stroke="#262626" stroke-width="1.08" fill="none" />
<path d="M215.7 1823.4Q222.5 1826.5 229.2 1823.4V1847.5Q222.5 1844.5 215.7 1847.5Z" stroke="#262626" stroke-width="1.32" fill="none" />
<path d="M219.7 1833H229.2V1838H219.7Z" stroke="#262626" stroke-width="1.20" fill="none" />
<path d="M221.5 1833V1838" stroke="#262626" stroke-width="0.96" fill="none" />
<rect x="217.1" y="1871.6" width="12.4" height="25.0" rx="5.5" fill="none" stroke="#262626" stroke-width="1.3"/>
<rect x="217.1" y="1901.8" width="12.4" height="24.1" rx="5.5" fill="none" stroke="#262626" stroke-width="1.3"/>
<rect x="217.1" y="1931.9" width="12.4" height="24.1" rx="5.5" fill="none" stroke="#262626" stroke-width="1.3"/>
<rect x="217.1" y="1976.7" width="12.4" height="25.0" rx="5.5" fill="none" stroke="#262626" stroke-width="1.3"/>
<path d="M254.6 1581V2082" stroke="#262626" stroke-width="1.20" fill="none" />
<path d="M250.7 1580.3C251.5 1580.5 253.9 1579.9 255.8 1581.4C257.8 1582.8 260.0 1585.1 262.4 1588.9C264.8 1592.8 268.0 1600.3 270.1 1604.4C272.3 1608.6 274.4 1612.3 275.3 1613.9" stroke="#262626" stroke-width="1.20" fill="none" />
<path d="M262.4 1588.9C263.0 1594.4 265.1 1610.5 265.8 1621.7C266.6 1632.9 266.9 1641.8 266.9 1656.1C266.9 1670.5 266.4 1693.4 265.8 1707.8C265.2 1722.1 264.0 1727.9 263.3 1742.2C262.5 1756.6 262.0 1779.3 261.5 1793.9C261.0 1808.5 260.5 1814.2 260.3 1830.0C260.1 1845.8 260.3 1867.6 260.3 1888.9C260.4 1910.2 260.5 1937.7 260.7 1957.8C260.9 1977.9 261.2 1991.7 261.5 2009.5C261.8 2027.3 263.5 2052.5 262.4 2064.6C261.2 2076.6 256.6 2078.5 254.6 2081.8C252.7 2085.1 251.3 2084.0 250.7 2084.4" stroke="#262626" stroke-width="1.20" fill="none" />
<path d="M265.8 1594.1C266.6 1601.6 269.3 1625.7 270.1 1638.9C271.0 1652.1 271.4 1659.0 271.0 1673.3C270.6 1687.7 269.0 1707.8 267.9 1725.0C266.8 1742.2 265.1 1759.2 264.5 1776.7C263.8 1794.2 263.8 1814.2 263.8 1830.0C263.7 1845.8 263.8 1857.8 264.1 1871.7C264.5 1885.5 265.6 1898.7 265.8 1913.0C266.1 1927.4 265.8 1944.6 265.5 1957.8C265.2 1971.0 264.3 1980.8 264.1 1992.2C263.9 2003.7 264.2 2017.5 264.5 2026.7C264.7 2035.9 265.6 2043.9 265.8 2047.4" stroke="#262626" stroke-width="1.08" fill="none" />
<path d="M283.1 1581.7C282.3 1584.1 280.0 1590.5 278.8 1595.8C277.5 1601.2 275.5 1606.7 275.3 1613.9C275.1 1621.1 276.7 1630.1 277.5 1638.9C278.4 1647.6 279.6 1657.8 280.5 1666.5C281.4 1675.1 281.5 1683.5 283.1 1690.6C284.6 1697.6 287.7 1701.5 289.9 1708.6C292.2 1715.8 294.5 1724.0 296.8 1733.6C299.2 1743.2 302.4 1756.3 304.1 1766.3C305.7 1776.4 306.5 1783.3 306.8 1793.9C307.1 1804.5 307.2 1819.9 305.8 1830.0C304.4 1840.1 301.2 1844.6 298.6 1854.4C295.9 1864.3 292.7 1879.0 289.9 1888.9C287.2 1898.8 283.5 1909.7 282.2 1913.9" stroke="#262626" stroke-width="1.32" fill="none" />
<path d="M282.2 1913.9C281.2 1914.4 278.5 1916.6 276.2 1917.3C273.9 1918.0 269.7 1918.0 268.4 1918.2" stroke="#262626" stroke-width="1.20" fill="none" />
<path d="M282.2 1913.9 L298.6 1921.6" stroke="#262626" stroke-width="1.20" fill="none" />
<path d="M282.2 1913.9C280.9 1916.9 276.7 1926.1 274.4 1932.0C272.2 1937.8 269.9 1943.4 268.4 1949.2C267.0 1954.9 266.3 1963.5 265.8 1966.4" stroke="#262626" stroke-width="1.20" fill="none" />
<path d="M283.1 1581.7C283.8 1582.2 286.1 1583.1 287.4 1584.6C288.7 1586.1 288.9 1586.2 290.8 1590.7C292.7 1595.1 295.5 1601.9 298.6 1611.3C301.6 1620.8 305.7 1634.3 308.9 1647.5C312.1 1660.7 315.3 1676.2 317.5 1690.6C319.7 1704.9 321.2 1722.1 322.3 1733.6C323.5 1745.1 324.1 1749.4 324.4 1759.5C324.7 1769.5 324.9 1782.2 324.4 1793.9C323.9 1805.7 322.7 1817.0 321.3 1830.0C319.9 1843.0 317.9 1856.1 315.8 1871.7C313.7 1887.2 311.8 1906.1 308.9 1923.3C306.0 1940.6 302.0 1957.8 298.6 1975.0C295.1 1992.2 291.5 2011.8 288.2 2026.7C284.9 2041.6 280.3 2058.3 278.8 2064.6" stroke="#262626" stroke-width="1.32" fill="none" />
<path d="M295.5 1610.5C297.1 1616.9 302.6 1635.9 305.4 1649.2C308.3 1662.6 310.5 1675.1 312.3 1690.6C314.2 1706.1 315.7 1726.4 316.6 1742.2C317.6 1758.0 317.8 1770.7 317.9 1785.3C317.9 1799.9 317.7 1818.5 316.8 1830.0C315.9 1841.5 314.2 1844.6 312.3 1854.4C310.4 1864.3 307.7 1877.4 305.4 1888.9C303.2 1900.4 301.1 1911.9 298.6 1923.3C296.0 1934.8 292.5 1946.3 289.9 1957.8C287.4 1969.3 284.6 1980.8 283.1 1992.2C281.5 2003.7 280.8 2018.1 280.5 2026.7C280.2 2035.3 281.2 2041.0 281.3 2043.9" stroke="#262626" stroke-width="2.04" fill="none" />
<path d="M285.6 1583.8C286.6 1590.1 289.4 1607.9 291.7 1621.7C294.0 1635.4 297.0 1652.1 299.4 1666.5C301.9 1680.8 304.7 1695.2 306.3 1707.8C307.9 1720.4 308.3 1729.3 308.9 1742.2C309.5 1755.2 310.0 1770.7 309.9 1785.3C309.8 1799.9 308.8 1819.9 308.2 1830.0C307.6 1840.1 307.6 1837.5 306.3 1845.8C305.0 1854.2 302.0 1866.8 300.3 1880.3C298.6 1893.8 298.0 1913.9 296.0 1926.8C294.0 1939.7 290.7 1946.9 288.2 1957.8C285.8 1968.7 283.0 1980.8 281.3 1992.2C279.7 2003.7 278.7 2018.1 278.2 2026.7C277.8 2035.3 278.7 2041.0 278.8 2043.9" stroke="#262626" stroke-width="1.08" fill="none" />
<path d="M295.1 1610.5 L299.4 1615.1 L310.6 1654.4 L309.8 1657.8" stroke="#262626" stroke-width="1.32" fill="none" />
<path d="M289.9 1708.6 L312.0 1706.1M304.1 1766.3 L316.6 1765.5" stroke="#262626" stroke-width="1.32" fill="none" />
<path d="M283.1 1690.6C282.1 1694.9 279.0 1707.8 277.0 1716.4C275.0 1725.0 272.9 1730.8 271.0 1742.2C269.1 1753.7 267.0 1770.7 265.8 1785.3C264.7 1799.9 264.4 1822.5 264.1 1830.0" stroke="#262626" stroke-width="1.08" fill="none" />
<path d="M265.8 2047.4 L276.2 2049.9" stroke="#262626" stroke-width="1.08" fill="none" />
<path d="M265.8 2047.4C266.1 2048.7 267.3 2059.3 268.4 2061.1C269.5 2062.9 276.0 2065.1 277.0 2065.4C278.1 2065.8 278.2 2066.7 278.8 2064.6C279.3 2062.4 281.9 2046.0 282.2 2043.9" stroke="#262626" stroke-width="1.20" fill="none" />
<path d="M141.3 2098.2H187M168.9 2084.4L187 2098.2L168.9 2112" stroke="#333" stroke-width="2.88" fill="none" />
<path d="M301 2097.3H256.6M274.5 2085.3L256.6 2097.3L274.5 2109.3" stroke="#333" stroke-width="2.88" fill="none" />
</g>
<text x="313" y="2107.3" class="or" font-size="23.3" letter-spacing="0">40-100MM</text>
<text x="89.5" y="2185" class="lb" font-size="21.5" letter-spacing="1.4" stroke="#111" stroke-width="0.45">Applicable door thickness</text>
<g id="lock-front" stroke-linecap="round" stroke-linejoin="round">
<path d="M594.8 1542V2122" stroke="#111" stroke-width="2.2" fill="none" />
<path d="M594.8 1830.8H585V1866.8H594.8" stroke="#111" stroke-width="2.0" fill="none" />
<path d="M774.5 1542V1769.6H867.5M783.2 1542V1761.2H864.5M774.5 1769.6L783.2 1761.2" stroke="#111" stroke-width="1.8" fill="none" />
<path d="M877.5 1872.8H774.5V2135M862 1881.8H783.2V2089.5M774.5 1872.8L783.2 1881.8" stroke="#111" stroke-width="1.8" fill="none" />
<path d="M646 1653.4C646 1633.4 656.5 1613.4 667 1613.4H702C712.5 1613.4 723 1633.4 723 1653.4V2027.9C723 2050.9 715.8 2063.9 703 2063.9H666C653.2 2063.9 646 2050.9 646 2027.9Z" stroke="#222" stroke-width="1.5" fill="none" />
<path d="M648.8 1652.8C648.8 1634.3 658.3 1615.8 667.8 1615.8H701.3C710.8 1615.8 720.3 1634.3 720.3 1652.8V2027.1999999999998C720.3 2049.0 713.6 2061.2 701.8 2061.2H667.3C655.5 2061.2 648.8 2049.0 648.8 2027.1999999999998Z" stroke="#222" stroke-width="0.8" fill="none" />
<path d="M653.3 1632.3C653.3 1624.6 658.2 1618.3 664.3 1618.3H704.3C710.3 1618.3 715.3 1624.6 715.3 1632.3V2026.4C715.3 2040.0 710.0 2048.4 701.3 2048.4H667.3C658.6 2048.4 653.3 2040.0 653.3 2026.4Z" stroke="#222" stroke-width="0.8" fill="none" />
<path d="M655.8 1631.6C655.8 1625.0 660.1 1619.6 665.3 1619.6H703.3C708.5 1619.6 712.8 1625.0 712.8 1631.6V2026.2C712.8 2038.6 708.2 2046.2 700.8 2046.2H667.8C660.4 2046.2 655.8 2038.6 655.8 2026.2Z" stroke="#222" stroke-width="1.1" fill="none" />
<path d="M655.8 1990C656.5 2010 657 2022 659 2026Q660.5 2031 668 2031.2H700.5Q708 2031 709.5 2026C711.5 2022 712.2 2010 712.8 1990" stroke="#222" stroke-width="1.0" fill="none" />
<circle cx="685.5" cy="1663.4" r="22.4" fill="none" stroke="#222" stroke-width="0.9"/>
<circle cx="685.5" cy="1663.4" r="19.6" fill="none" stroke="#111" stroke-width="2"/>
<rect x="670.5" y="1699" width="27.5" height="15" rx="2" fill="none" stroke="#222" stroke-width="1"/>
<circle cx="684.8" cy="1818.7" r="10.3" fill="none" stroke="#111" stroke-width="1.7"/>
<rect x="672.7" y="1914" width="24.1" height="40.5" rx="11.5" fill="none" stroke="#222" stroke-width="1.1"/>
<path d="M661.8 1974.3Q684.8 1983.3 707.8 1974.3Q684.8 1980.3 661.8 1974.3Z" stroke="#222" stroke-width="0.7" fill="#333" />
<path d="M665.8 1978.8Q684.8 1987.0 703.8 1978.8Q684.8 1984.3 665.8 1978.8Z" stroke="#222" stroke-width="0.7" fill="#333" />
<path d="M669.8 1982.7Q684.8 1990.1000000000001 699.8 1982.7Q684.8 1987.7 669.8 1982.7Z" stroke="#222" stroke-width="0.7" fill="#333" />
<path d="M673.8 1986Q684.8 1992.6 695.8 1986Q684.8 1990.5 673.8 1986Z" stroke="#222" stroke-width="0.7" fill="#333" />
<circle cx="672.2" cy="2010.5" r="3" fill="none" stroke="#222" stroke-width="0.9"/>
<circle cx="697.5" cy="2010.5" r="3" fill="none" stroke="#222" stroke-width="0.9"/>
<rect x="682.4" y="1757.2" width="5" height="3.2" rx="0.8" fill="none" stroke="#111" stroke-width="1.1"/>
<path d="M682.4 1793.2H687.4V1797.6H682.4ZM683.4 1793.2V1791.8Q683.4 1790 684.9 1790Q686.4 1790 686.4 1791.8V1793.2" stroke="#111" stroke-width="0.9" fill="none" />
<path d="M698.8 1784.6H705.8L704.4 1782.6V1780.6Q704.4 1778.4 702.3 1778.4Q700.2 1778.4 700.2 1780.6V1782.6Z" stroke="#111" stroke-width="1.0" fill="#fff" />
<path d="M700.8 1782.9H703.8M702.3 1780.2V1781.6" stroke="#111" stroke-width="0.9" fill="none" />
<path d="M644.9 2122.6H600M616.5 2110L599.6 2122.6L616.5 2135.3" stroke="#222" stroke-width="2.6" fill="none" />
<path d="M727.3 2122.6H771.5M755.5 2110L772.3 2122.6L755.5 2135.3" stroke="#222" stroke-width="2.6" fill="none" />
</g>
<g font-family="'Liberation Sans',sans-serif" font-weight="700" font-size="8.3" fill="#111" text-anchor="middle">
<text x="666.5" y="1738.5">1</text>
<text x="683.9" y="1738.5">2</text>
<text x="702" y="1738.5">3</text>
<text x="666.5" y="1754.6">4</text>
<text x="683.9" y="1754.0">5</text>
<text x="702" y="1754.6">6</text>
<text x="666.5" y="1769.7">7</text>
<text x="683.9" y="1769.7">8</text>
<text x="702" y="1769.7">9</text>
<text x="683.9" y="1785.2">0</text>
<text x="666.7" y="1785.1" font-size="7.6" font-family="'DejaVu Sans',sans-serif">★</text>
</g>
<text x="801" y="2132.5" class="or" font-size="22.3" letter-spacing="0.5">110MM</text>
<text x="578" y="2175.5" class="lb" font-size="21" letter-spacing="1.55" stroke="#111" stroke-width="0.45">Minimum door frame</text>
<rect x="0" y="1527" width="1024" height="6" fill="#f6f7f9"/>
<rect x="488" y="1570" width="3" height="656" fill="#ebe8e8"/>
<rect x="19" y="2224.5" width="972" height="3.5" fill="#e9e5e4"/>
<defs>
<linearGradient id="barv" x1="0" y1="0" x2="0" y2="1">
<stop offset="0" stop-color="#d6d6d6"/><stop offset="0.12" stop-color="#bdbdbd"/><stop offset="0.3" stop-color="#8c8c8c"/><stop offset="0.45" stop-color="#787878"/><stop offset="1" stop-color="#707070"/>
</linearGradient>
<linearGradient id="barh" x1="0" y1="0" x2="1" y2="0">
<stop offset="0" stop-color="#000" stop-opacity="0.16"/><stop offset="0.2" stop-color="#000" stop-opacity="0.02"/><stop offset="0.5" stop-color="#fff" stop-opacity="0.1"/><stop offset="0.8" stop-color="#000" stop-opacity="0.04"/><stop offset="1" stop-color="#000" stop-opacity="0.2"/>
</linearGradient>
<g id="sidelock">
<!-- relative to bar left x=0, bar width 14.3 ; y origin 2460 -->
<rect x="-5.800" y="2494.500" width="5.800" height="95" rx="2.200" fill="#fff" stroke="#111" stroke-width="1.300"/>
<path d="M-3.400 2496.500V2587.500" stroke="#111" stroke-width="0.700" fill="none"/>
<rect x="14.300" y="2494.500" width="6.400" height="95" rx="2.200" fill="#fff" stroke="#111" stroke-width="1.300"/>
<path d="M16.600 2496.500V2587.500" stroke="#111" stroke-width="0.700" fill="none"/>
<path d="M19.300 2495.800H21.600Q23.700 2496 23.700 2499V2526L20.700 2529H19.300Z" fill="#333" stroke="#111" stroke-width="0.800"/>
<rect x="-17" y="2539" width="11.200" height="9.700" rx="2" fill="#fff" stroke="#111" stroke-width="1.200"/>
<path d="M-14.600 2539V2548.700M-13 2539V2548.700" stroke="#111" stroke-width="0.700" fill="none"/>
<rect x="20.700" y="2539" width="10.700" height="9.700" rx="2" fill="#fff" stroke="#111" stroke-width="1.200"/>
<path d="M27.400 2539V2548.700M29 2539V2548.700" stroke="#111" stroke-width="0.700" fill="none"/>
<path d="M20.700 2572.800H23.500" stroke="#111" stroke-width="1.600" fill="none" stroke-linecap="round"/>
</g>
</defs>
<!-- interior/exterior door front -->
<g stroke="#111" stroke-width="1.500" fill="none" stroke-linejoin="round">
<rect x="129.700" y="2301" width="227.800" height="465" fill="#fff"/>
<rect x="144.400" y="2330.700" width="197.600" height="405" fill="#fff"/>
<rect x="187" y="2364.800" width="55" height="334" rx="1.500" stroke-width="1.300"/>
<rect x="267.300" y="2364.800" width="54.600" height="334" rx="1.500" stroke-width="1.300"/>
<rect x="342" y="2331.500" width="104.700" height="404.100" fill="#d3d3d3"/>
<rect x="446.300" y="2330.700" width="10" height="404.900" fill="#d2d2d2" stroke-width="1.500"/>
<g fill="#d9d9d9" stroke-width="1.300">
<rect x="372.700" y="2357" width="48.800" height="76.400"/><rect x="372.700" y="2484.500" width="48.800" height="75.500"/><rect x="372.700" y="2609.700" width="48.800" height="76.300"/>
</g>
<path d="M374.600 2357V2431.500H421.500M374.600 2484.500V2558.100H421.500M374.600 2609.700V2684.100H421.500" stroke-width="0.800"/>
</g>
<!-- interior lock -->
<g stroke="#111" fill="#fff">
<rect x="150.500" y="2512.700" width="17.100" height="83.400" rx="4.500" stroke-width="2.300"/>
<path d="M151.600 2548.100H166.500" stroke-width="0.900"/>
<path d="M158.700 2552.800H186.800Q189.600 2552.800 189.600 2555.700Q189.600 2558.500 186.800 2558.500H158.700Z" stroke-width="1.600"/>
<circle cx="158.700" cy="2555.900" r="3.300" stroke-width="2.400"/>
<rect x="155.700" y="2568.300" width="6.600" height="9.700" rx="3" stroke-width="1.300"/>
</g>
<!-- exterior lock -->
<g stroke="#111" fill="#fff">
<rect x="429" y="2512" width="15" height="84.600" rx="3.500" stroke-width="1.700"/>
<path d="M438.600 2514V2595" stroke-width="1.900" fill="none"/>
<path d="M429.800 2513.800H437.800V2542.400H429.800" stroke-width="1.500" fill="none"/>
<path d="M430 2546.500H438" stroke-width="0.900" fill="none"/>
<rect x="410" y="2552.600" width="26" height="7.200" rx="3.200" fill="#e6e6e6" stroke-width="1.600"/>
<path d="M427.500 2552.600V2559.800M431.500 2552.600V2559.800" stroke-width="0.800" fill="none"/>
<circle cx="433.900" cy="2581.800" r="2.300" stroke-width="1.500" fill="#ddd"/>
<rect x="449.300" y="2537.600" width="5.200" height="58.600" rx="1.500" stroke-width="1.900"/>
<path d="M451.900 2549V2590" stroke="#333" stroke-width="2.400" stroke-dasharray="3.600 2.200" fill="none"/>
<rect x="458" y="2552.300" width="5.600" height="7.700" rx="1.200" stroke-width="1.400"/>
<path d="M457.400 2512.800V2595.700" stroke-width="1.700" fill="none"/>
</g>
<text x="140.500" y="2794" class="lb" font-size="22" letter-spacing="1.150" stroke="#111" stroke-width="0.500">Interior door</text>
<text x="390.300" y="2751" class="lb" font-size="16" font-weight="700" letter-spacing="1.100">Exterior door</text>

<!-- side bars -->
<text x="540" y="2291" class="lb" font-size="22" letter-spacing="1.150" stroke="#111" stroke-width="0.500">Interior door</text>
<text x="724.500" y="2290.300" class="lb" font-size="16" font-weight="700" letter-spacing="1.100">Exterior door</text>
<rect x="658.400" y="2300" width="14.300" height="428" fill="url(#barv)"/><rect x="658.400" y="2300" width="14.300" height="428" fill="url(#barh)"/>
<rect x="726.600" y="2300" width="14.300" height="428" fill="url(#barv)"/><rect x="726.600" y="2300" width="14.300" height="428" fill="url(#barh)"/>
<path d="M672.300 2300V2728M740.500 2300V2728" stroke="#3a3a3a" stroke-opacity="0.45" stroke-width="0.9" fill="none"/>
<use href="#sidelock" x="658.400"/>
<use href="#sidelock" x="726.600"/>
<g stroke="#333" stroke-width="1.400" fill="none" stroke-linecap="round" stroke-linejoin="round">
<path d="M673.800 2721.400H725.200M681.500 2714.500L673.800 2721.400L681.500 2728.300M717.500 2714.500L725.200 2721.400L717.500 2728.300"/>
<path d="M701.300 2721.400V2760.500M695.500 2753.500L701.300 2761L707 2753.500"/>
</g>
<text x="749.500" y="2729.300" class="or" font-size="21.500" letter-spacing="0.500">170MM</text>
<text x="620" y="2788.600" class="lb" font-size="21" letter-spacing="1.500" stroke="#111" stroke-width="0.450">Minimum spacing</text>
</svg>
</body>
</html>
